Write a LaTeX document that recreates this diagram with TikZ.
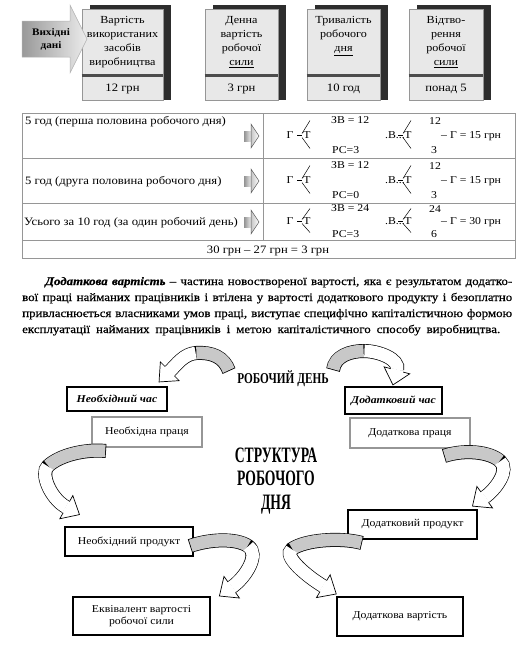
\documentclass[tikz,border=0pt]{standalone}
\usepackage{fontspec}
\setmainfont[FakeStretch=1.12]{Liberation Serif}
\newfontfamily\headfont{Liberation Serif}
\newfontfamily\parafont[FakeStretch=1.12, FakeBold=0.6]{Liberation Serif}
\usepackage{graphicx}
\usetikzlibrary{arrows.meta,calc,positioning}
\definecolor{dotgray}{RGB}{232,232,232}
\definecolor{shadowgray}{RGB}{45,45,45}
\definecolor{rulegray}{RGB}{150,150,150}
\definecolor{ribbongray}{RGB}{200,200,200}
\definecolor{framegray}{RGB}{150,150,150}

% ribbon arrow: start, c1, c2, mid, c3, c4, end of body
\newcommand\ribbon[7]{%
  \draw[line width=14pt] (#1) .. controls (#2) and (#3) .. (#4) .. controls (#5) and (#6) .. (#7);
  \draw[line width=12.6pt, ribbongray, shorten <=0.8pt, shorten >=0.4pt] (#1) .. controls (#2) and (#3) .. (#4);
  \draw[line width=12.6pt, white, shorten <=0.4pt] (#4) .. controls (#5) and (#6) .. (#7);
  \draw[line width=0.7pt, -{Triangle[width=28pt,length=16pt,fill=white]}] (#7) -- ($(#7)!-16pt!(#6)$);
  \draw[line width=12.6pt, white] ($(#7)!0.5pt!(#6)$) -- ($(#7)!-1.5pt!(#6)$);
}

\tikzset{
  databox/.style={rectangle, draw=rulegray, fill=dotgray, line width=0.6pt, inner sep=0pt},
  boxtext/.style={align=center, font=\fontsize{10.8}{14}\selectfont, inner sep=0pt, anchor=north},
  cell/.style={font=\fontsize{11.3}{12}\selectfont, inner sep=0pt},
  frm/.style={font=\fontsize{10.5}{12}\selectfont, inner sep=0pt},
  blackbox/.style={rectangle, draw=black, line width=2.6pt, fill=white, font=\fontsize{10.5}{12.5}\selectfont, align=center, inner sep=0pt},
  graybox/.style={rectangle, draw=framegray, line width=2.6pt, fill=white, font=\fontsize{10.5}{12}\selectfont, inner sep=0pt},
  partext/.style={anchor=base west, inner sep=0pt, font=\parafont\fontsize{11.5}{15}\selectfont},
  pics/tabarrow/.style={code={
    \shade[left color=gray!85, right color=gray!15] (-7,-5) rectangle (0,5);
    \draw[gray!70!black, line width=0.5pt, left color=gray!45, right color=white] (0,-12) -- (8,0) -- (0,12) -- cycle;
  }},
  pics/formula/.style n args={6}{code={
    \node[frm] (g) at (27,0) {Г};
    \node[frm] (t) at (44,0) {Т};
    \draw[line width=0.5pt] (34,0) -- (39,0);
    \draw[line width=0.5pt] (39,-2) -- (47,-#6) (39,2) -- (47,#6-2);
    \node[frm, anchor=west] (zv) at (68,-#6) {ЗВ = #1};
    \node[frm, anchor=west] (rs) at (69,#6) {РС=#2};
    \node[frm, anchor=west] (v) at (122,0) {.В...};
    \draw[line width=0.5pt] (135,0) -- (140,0);
    \node[frm] (tt) at (145,0) {Т};
    \draw[line width=0.5pt] (140,-2) -- (148,-#6) (140,2) -- (148,#6-2);
    \node[frm, anchor=west] (up) at (166,-#6+1) {#3};
    \node[frm, anchor=west] (dn) at (168,#6) {#4};
    \node[frm, anchor=west] (res) at (178,1) {– Г = #5 грн};
  }}
}

\begin{document}
\begin{tikzpicture}[x=1pt, y=-1pt, >=Stealth]
\useasboundingbox (0,0) rectangle (530,664);
% input data boxes
\fill[shadowgray] (90,5) rectangle (171,100);
\node[databox, minimum width=81pt, minimum height=91pt] (vzv) at (122.5,54.5) {};
\fill[shadowgray] (213,5) rectangle (286,100);
\node[databox, minimum width=73pt, minimum height=91pt] (dvrs) at (241.5,54.5) {};
\fill[shadowgray] (315,5) rectangle (388,100);
\node[databox, minimum width=73pt, minimum height=91pt] (trd) at (343.5,54.5) {};
\fill[shadowgray] (417,5) rectangle (491,100);
\node[databox, minimum width=74pt, minimum height=91pt] (vrs) at (446,54.5) {};
\draw[shadowgray!85, line width=2.5pt] ($(vzv.north west)+(0,67)$) -- ($(vzv.north east)+(0,67)$);
\draw[shadowgray!85, line width=2.5pt] ($(dvrs.north west)+(0,67)$) -- ($(dvrs.north east)+(0,67)$);
\draw[shadowgray!85, line width=2.5pt] ($(trd.north west)+(0,67)$) -- ($(trd.north east)+(0,67)$);
\draw[shadowgray!85, line width=2.5pt] ($(vrs.north west)+(0,67)$) -- ($(vrs.north east)+(0,67)$);
\node[boxtext] (vzvt) at (122.5,16) {Вартість\\використаних\\засобів\\виробництва};
\node[boxtext] (dvrst) at (241.5,16) {Денна\\вартість\\робочої\\\underline{сили}};
\node[boxtext] (trdt) at (343.5,16) {Тривалість\\робочого\\\underline{дня}};
\node[boxtext] (vrst) at (446,16) {Відтво-\\рення\\робочої\\\underline{сили}};
\node[cell] (vzvv) at (122.5,89) {12 грн};
\node[cell] (dvrsv) at (241.5,89) {3 грн};
\node[cell] (trdv) at (343.5,89) {10 год};
\node[cell] (vrsv) at (446,89) {понад 5};
\path[draw=gray!60, line width=0.5pt, left color=gray!80, right color=gray!15] (22,21) -- (70,21) -- (70,5) -- (87,39) -- (70,73) -- (70,57) -- (22,57) -- cycle;
\node[font=\bfseries\fontsize{10}{13}\selectfont, align=center, inner sep=0pt] (vyh) at (51,39) {Вихідні\\дані};
% table
\draw[rulegray, line width=0.6pt] (22,113) rectangle (515,258);
\draw[rulegray, line width=0.6pt] (22,158) -- (515,158) (22,203) -- (515,203) (22,240) -- (515,240) (263,113) -- (263,240);
\node[cell, anchor=base west] (row1) at (25,124) {5 год (перша половина робочого дня)};
\node[cell, anchor=base west] (row2) at (25,184) {5 год (друга половина робочого дня)};
\node[cell, anchor=base west] (row3) at (24,225) {Усього за 10 год (за один робочий день)};
\node[cell, anchor=base] (total) at (268,253) {30 грн – 27 грн = 3 грн};
\pic at (251,136) {tabarrow};
\pic at (251,181) {tabarrow};
\pic at (251,222) {tabarrow};
\pic (r1) at (263,135.5) {formula={12}{3}{12}{3}{15}{15}};
\pic (r2) at (263,180.5) {formula={12}{0}{12}{3}{15}{15}};
\pic (r3) at (263,221.5) {formula={24}{3}{24}{6}{30}{13}};
% definition
\node[partext] (def1) at (45,285) {\makebox[467pt][s]{\textbf{\textit{Додаткова вартість}} – частина новоствореної вартості, яка є результатом додатко-}};
\node[partext] (def2) at (22,301) {\makebox[490pt][s]{вої праці найманих працівників і втілена у вартості додаткового продукту і безоплатно}};
\node[partext] (def3) at (22,317) {\makebox[490pt][s]{привласнюється власниками умов праці, виступає специфічно капіталістичною формою}};
\node[partext] (def4) at (22,333) {\makebox[478pt][s]{експлуатації найманих працівників і метою капіталістичного способу виробництва.}};
% structure of the working day
\node[font=\headfont\bfseries\fontsize{15}{15}\selectfont, inner sep=0pt] (rden) at (283,379) {\scalebox{0.75}[1]{РОБОЧИЙ ДЕНЬ}};
\node[font=\headfont\bfseries\fontsize{22}{23.5}\selectfont, align=center, inner sep=0pt] (title) at (276,481) {\scalebox{0.62}[1]{СТРУКТУРА}\\\scalebox{0.62}[1]{РОБОЧОГО}\\\scalebox{0.62}[1]{ДНЯ}};
\node[blackbox, font=\bfseries\itshape\fontsize{10.5}{12}\selectfont, minimum width=100pt, minimum height=24pt] (nchas) at (117,399) {Необхідний час};
\node[graybox, minimum width=110pt, minimum height=30pt] (nprac) at (147,432) {Необхідна праця};
\node[blackbox, font=\bfseries\itshape\fontsize{10.5}{12}\selectfont, minimum width=97pt, minimum height=27pt] (dchas) at (393.5,400.5) {Додатковий час};
\node[graybox, minimum width=120pt, minimum height=30pt] (dprac) at (410,433) {Додаткова праця};
\node[blackbox, minimum width=128pt, minimum height=29pt] (nprod) at (129,541.5) {Необхідний продукт};
\node[blackbox, minimum width=137pt, minimum height=38pt] (ekv) at (141.5,616) {Еквівалент вартості\\робочої сили};
\node[blackbox, minimum width=129pt, minimum height=29pt] (dprod) at (412.5,524.5) {Додатковий продукт};
\node[blackbox, minimum width=126pt, minimum height=39pt] (dvart) at (400,616.5) {Додаткова вартість};
% curved ribbon arrows
\ribbon{229,371}{224,357}{212,352}{196,353}{184,354}{177,364}{170,371}
\ribbon{333,370}{335,356}{350,351}{364,351}{378,351}{400,359}{397,370}
\ribbon{106,451}{85,449}{60,455}{48,466}{40,473}{50,498}{66,507}
\ribbon{444,456}{465,449}{490,452}{500,461}{510,470}{496,489}{485,497}
\ribbon{190,546}{210,539}{236,538}{248,546}{260,554}{246,577}{232,587}
\ribbon{362,543}{340,537}{305,540}{292,549}{282,556}{308,577}{323,586}
\end{tikzpicture}
\end{document}
